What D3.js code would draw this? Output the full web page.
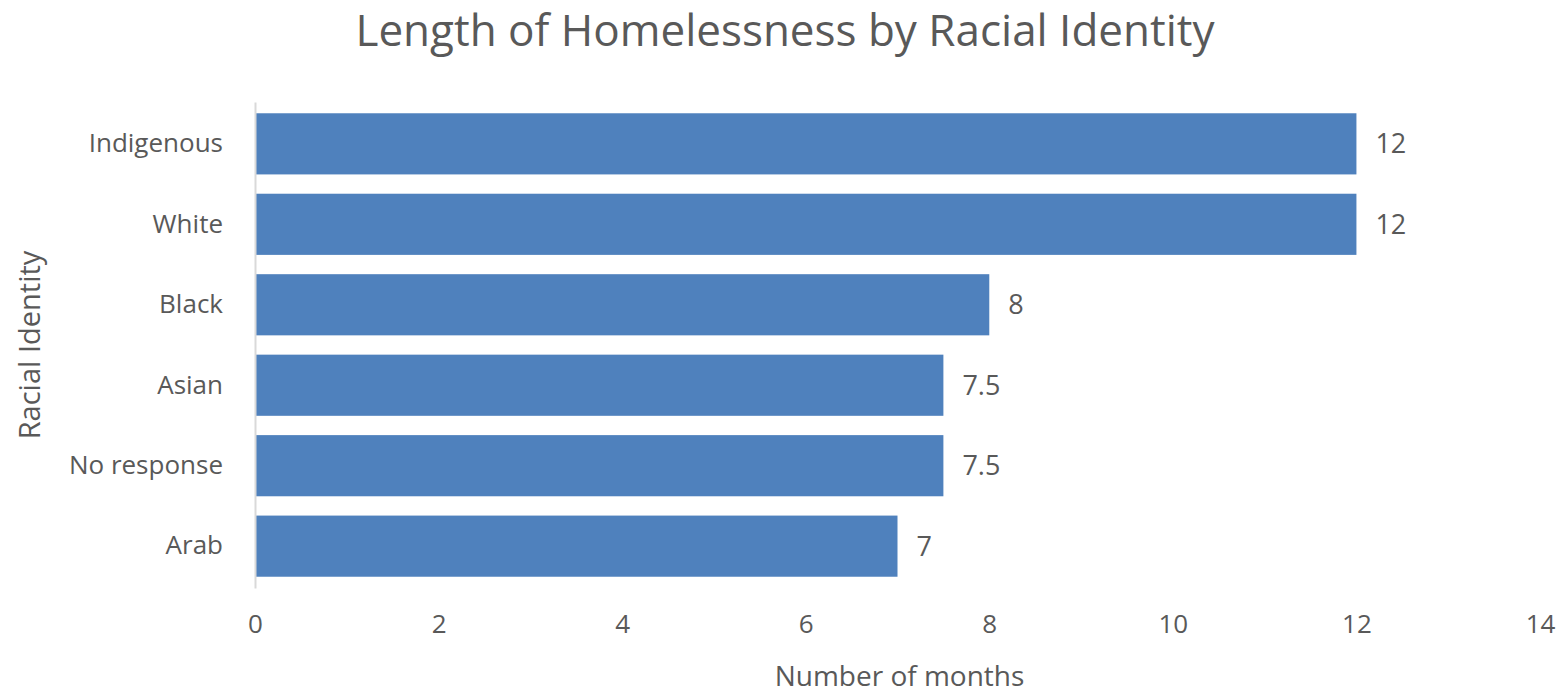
<!DOCTYPE html>
<html lang="en">
  <head>
    <meta charset="UTF-8" />
    <title>Length of Homelessness by Racial Identity</title>
    <script src="https://cdn.jsdelivr.net/npm/d3@7"></script>
    <style>
      body {
        margin: 0;
        background-color: white;
        font-family: 'Open Sans', sans-serif;
      }

      svg text {
        fill: #595959;
      }
    </style>
  </head>
  <body>
    <svg width="1561" height="695"></svg>

    <script>
      const categories = ['Indigenous', 'White', 'Black', 'Asian', 'No response', 'Arab'];
      const months = [12, 12, 8, 7.5, 7.5, 7];
      const xTicks = [0, 2, 4, 6, 8, 10, 12, 14];

      const svg = d3.select('svg');
      const margin = { top: 102, right: 21, bottom: 107, left: 255 };
      const width = +svg.attr('width');
      const height = +svg.attr('height');
      const chartWidth = width - margin.left - margin.right;
      const chartHeight = height - margin.top - margin.bottom;

      const xScale = d3.scaleLinear().domain([0, 14]).range([0, chartWidth]);

      const yScale = d3
        .scaleBand()
        .domain(categories)
        .range([0, chartHeight])
        .paddingInner(0.24)
        .paddingOuter(0.14);

      const chart = svg
        .append('g')
        .attr('transform', `translate(${margin.left},${margin.top})`);

      // Title
      svg
        .append('text')
        .attr('x', 785)
        .attr('y', 46)
        .attr('text-anchor', 'middle')
        .style('font-size', '44px')
        .text('Length of Homelessness by Racial Identity');

      // Bars
      chart
        .selectAll('.bar')
        .data(categories)
        .enter()
        .append('rect')
        .attr('class', 'bar')
        .attr('x', 0)
        .attr('y', (d) => yScale(d))
        .attr('width', (d, i) => xScale(months[i]))
        .attr('height', yScale.bandwidth())
        .attr('fill', '#4f81bd');

      // Value labels
      chart
        .selectAll('.value')
        .data(categories)
        .enter()
        .append('text')
        .attr('class', 'value')
        .attr('x', (d, i) => xScale(months[i]) + 19)
        .attr('y', (d) => yScale(d) + yScale.bandwidth() / 2)
        .attr('dy', '0.35em')
        .style('font-size', '27px')
        .text((d, i) => months[i]);

      // X axis
      const xAxis = chart
        .append('g')
        .attr('transform', `translate(0,${chartHeight})`)
        .call(d3.axisBottom(xScale).tickValues(xTicks).tickSize(0).tickPadding(27));
      xAxis.select('.domain').remove();
      xAxis.selectAll('text').style('font-size', '26px').style('font-family', "'Open Sans', sans-serif");

      // Y axis
      const yAxis = chart
        .append('g')
        .call(d3.axisLeft(yScale).tickSize(0).tickPadding(32));
      yAxis.select('.domain').attr('stroke', '#d9d9d9').attr('stroke-width', 2);
      yAxis.selectAll('text').style('font-size', '26px').style('font-family', "'Open Sans', sans-serif");

      // Axis titles
      svg
        .append('text')
        .attr('x', margin.left + xScale(7) + 2)
        .attr('y', 686)
        .attr('text-anchor', 'middle')
        .style('font-size', '28px')
        .text('Number of months');

      svg
        .append('text')
        .attr('transform', `translate(40,${margin.top + chartHeight / 2}) rotate(-90)`)
        .attr('text-anchor', 'middle')
        .style('font-size', '29px')
        .text('Racial Identity');
    </script>
  </body>
</html>
